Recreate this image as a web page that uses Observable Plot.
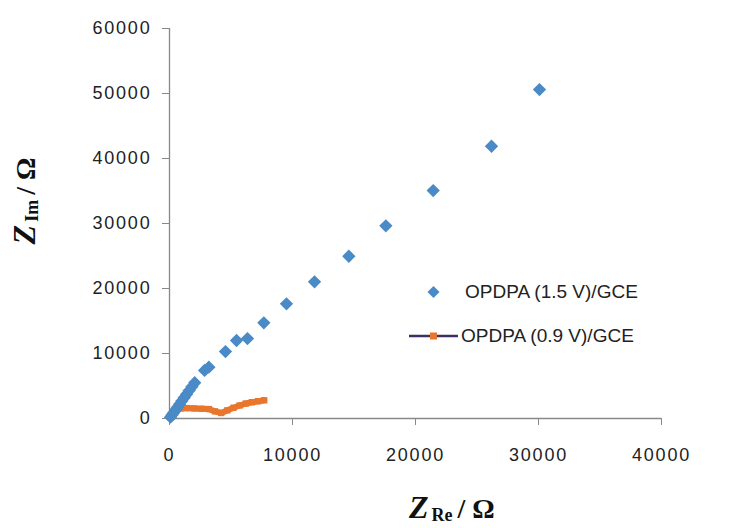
<!DOCTYPE html>
<html><head><meta charset="utf-8">
<script src="https://cdn.jsdelivr.net/npm/d3@7"></script>
<script src="https://cdn.jsdelivr.net/npm/@observablehq/plot@0.6"></script>
<style>
body{margin:0;background:#fff;}
#wrap{position:relative;width:730px;height:528px;overflow:hidden;background:#fff;font-family:"Liberation Sans",Arial,sans-serif;}
.abs{position:absolute;white-space:nowrap;}
.ttl{font-family:"Liberation Serif","Times New Roman",serif;font-weight:bold;color:#111;font-size:28px;line-height:30px;}
.ttl i{font-size:32px;}
.ttl sub{font-size:18px;vertical-align:-3px;margin-left:3px;margin-right:5px;}
.legt{font-size:19px;line-height:22px;color:#222;}
svg text{letter-spacing:1.8px;}
</style></head><body><div id="wrap"></div>
<script>
const blueX = [80, 200, 340, 490, 650, 820, 1000, 1190, 1390, 1600, 1820, 2050, 2850, 3200, 4550, 5450, 6340, 7670, 9510, 11790, 14580, 17590, 21440, 26180, 30080];
const blueY = [200, 520, 900, 1310, 1750, 2200, 2680, 3190, 3730, 4290, 4880, 5500, 7400, 7900, 10300, 12000, 12300, 14720, 17640, 21020, 24960, 29640, 35070, 41880, 50600];
const orangeX = [150, 500, 900, 1400, 2000, 2600, 3200, 3700, 4200, 4700, 5200, 5700, 6200, 6700, 7200, 7700];
const orangeY = [300, 1100, 1550, 1600, 1550, 1500, 1450, 1100, 850, 1250, 1650, 2000, 2300, 2500, 2650, 2800];
const xTicks = [0, 10000, 20000, 30000, 40000];
const yTicks = [0, 10000, 20000, 30000, 40000, 50000, 60000];
const seriesNames = ["OPDPA (1.5 V)/GCE", "OPDPA (0.9 V)/GCE"];
const blueColor = "#4A8AC6", orangeColor = "#E8762C", legendLine = "#3B3162";

const blue = blueX.map((x, i) => ({x, y: blueY[i]}));
const orange = orangeX.map((x, i) => ({x, y: orangeY[i]}));

const plot = Plot.plot({
  width: 730, height: 528,
  marginLeft: 169, marginRight: 69, marginTop: 28, marginBottom: 110,
  x: {domain: [0, 40000]},
  y: {domain: [0, 60000]},
  style: {fontFamily: "Liberation Sans, Arial, sans-serif", fontSize: "18px", color: "#222", background: "white"},
  marks: [
    Plot.axisX({ticks: xTicks, tickSize: 7, tickPadding: 23, tickFormat: d3.format("d"), label: null, stroke: "#888", fill: "#222", fontSize: 18}),
    Plot.axisY({ticks: yTicks, tickSize: 7, tickPadding: 11, tickFormat: d3.format("d"), label: null, stroke: "#888", fill: "#222", fontSize: 18}),
    Plot.ruleY([0], {stroke: "#888", strokeWidth: 1.3}),
    Plot.ruleX([0], {stroke: "#888", strokeWidth: 1.3}),
    Plot.line(orange, {x: "x", y: "y", stroke: orangeColor, strokeWidth: 6}),
    Plot.dot(orange, {x: "x", y: "y", symbol: "square", r: 3.6, fill: orangeColor, stroke: null}),
    Plot.dot(blue, {x: "x", y: "y", symbol: "diamond2", r: 6, fill: blueColor, stroke: null})
  ]
});
const wrap = document.getElementById("wrap");
wrap.appendChild(plot);

// legend
const leg1 = document.createElement("div");
leg1.className = "abs";
leg1.style.left = "409px"; leg1.style.top = "281px";
leg1.innerHTML = `<svg width="52" height="22" style="position:absolute;left:0;top:0"><path d="M24.5,5 L30.5,11 L24.5,17 L18.5,11 Z" fill="${blueColor}"/></svg><span class="abs legt" style="left:56px;top:0">${seriesNames[0]}</span>`;
wrap.appendChild(leg1);
const leg2 = document.createElement("div");
leg2.className = "abs";
leg2.style.left = "409px"; leg2.style.top = "325px";
leg2.innerHTML = `<svg width="52" height="22" style="position:absolute;left:0;top:0"><line x1="0" x2="49" y1="11" y2="11" stroke="${legendLine}" stroke-width="2.5"/><rect x="21" y="7.5" width="7" height="7" fill="${orangeColor}"/></svg><span class="abs legt" style="left:52px;top:0">${seriesNames[1]}</span>`;
wrap.appendChild(leg2);

// axis titles
const xt = document.createElement("div");
xt.className = "abs ttl";
xt.innerHTML = "<i>Z</i><sub>Re</sub>/ Ω";
wrap.appendChild(xt);
xt.style.left = (452 - xt.offsetWidth / 2) + "px";
xt.style.top = "492px";

const yt = document.createElement("div");
yt.className = "abs ttl";
yt.innerHTML = "<i>Z</i><sub>Im</sub>/ Ω";
wrap.appendChild(yt);
const w = yt.offsetWidth, h = yt.offsetHeight;
yt.style.left = (28 - w / 2) + "px";
yt.style.top = (201 - h / 2) + "px";
yt.style.transform = "rotate(-90deg)";
</script>
</body></html>
